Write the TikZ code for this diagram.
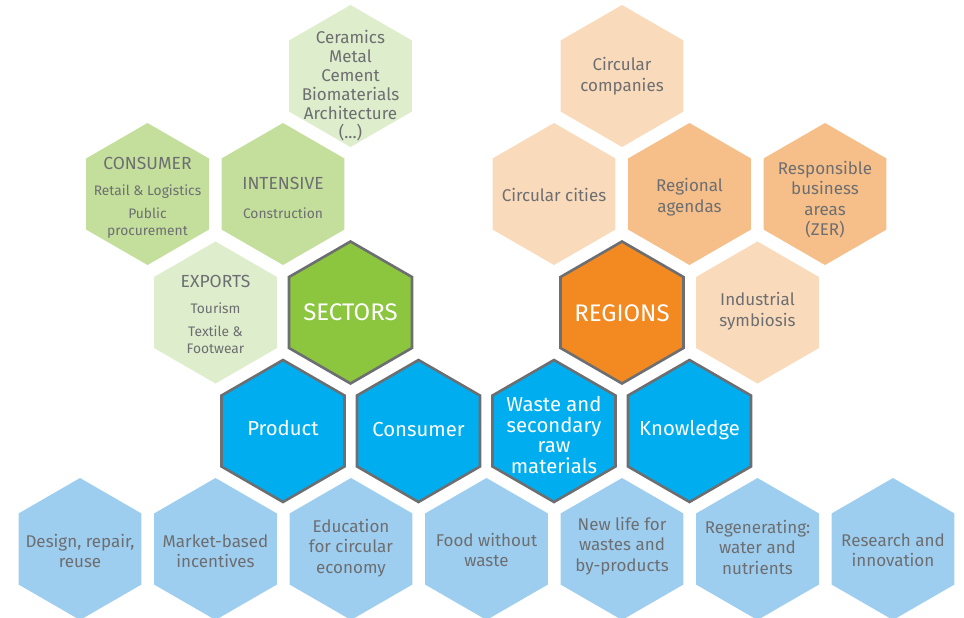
\documentclass[tikz,border=0pt]{standalone}
\usepackage{fontspec}
\setmainfont{Fira Sans}
\usetikzlibrary{shapes.geometric}

\definecolor{txtgray}{RGB}{109,110,113}
\definecolor{hexblue}{RGB}{0,174,239}
\definecolor{hexlblue}{RGB}{158,206,239}
\definecolor{hexgreen}{RGB}{140,198,63}
\definecolor{hexmgreen}{RGB}{196,223,156}
\definecolor{hexlgreen}{RGB}{222,237,204}
\definecolor{hexorange}{RGB}{242,138,33}
\definecolor{hexmorange}{RGB}{246,191,137}
\definecolor{hexlorange}{RGB}{249,219,187}

\tikzset{
  hexa/.style={regular polygon, regular polygon sides=6, shape border rotate=30,
    minimum size=142pt, inner sep=0pt, outer sep=0pt},
  core/.style={hexa, draw=txtgray, line width=2.6pt},
  txt/.style={align=center, text=txtgray, inner sep=0pt, font=\fontsize{17}{20.5}\selectfont},
  small/.style={txt, font=\fontsize{13.8}{19}\selectfont},
  head/.style={txt, font=\fontsize{17.5}{20}\selectfont},
  big/.style={align=center, text=white, inner sep=0pt, font=\fontsize{20.3}{20.5}\selectfont},
  huge/.style={big, font=\fontsize{24}{26}\selectfont}
}

\begin{document}
\begin{tikzpicture}[x=1pt, y=-1pt]
    \useasboundingbox (0,0) rectangle (964,618);

    % sectors side
    \node[hexa, fill=hexlgreen] (ceramics) at (350.5,76) {};
    \node[hexa, fill=hexmgreen] (consumer) at (147.5,194) {};
    \node[hexa, fill=hexmgreen] (intensive) at (283,194) {};
    \node[hexa, fill=hexlgreen] (exports) at (215.5,312.5) {};
    \node[core, fill=hexgreen] (sectors) at (350.5,312.5) {};

    \node[txt] (ceramics-t) at (350.5,86) {Ceramics\\[-1.5pt]Metal\\[-1.5pt]Cement\\[-1.5pt]Biomaterials\\[-1.5pt]Architecture\\[-1.5pt](...)};
    \node[head] (consumer-h) at (147.5,163) {CONSUMER};
    \node[small] (consumer-t) at (147.5,212) {Retail \& Logistics\\[4pt]Public\\[-2pt]procurement};
    \node[head] (intensive-h) at (283,183) {INTENSIVE};
    \node[small] (intensive-t) at (283,213) {Construction};
    \node[head] (exports-h) at (215.5,281) {EXPORTS};
    \node[small] (exports-t) at (215.5,328) {Tourism\\[4pt]Textile \&\\[-2pt]Footwear};
    \node[huge] (sectors-t) at (350.5,312) {SECTORS};

    % regions side
    \node[hexa, fill=hexlorange] (companies) at (622,76) {};
    \node[hexa, fill=hexlorange] (cities) at (554,194) {};
    \node[hexa, fill=hexmorange] (agendas) at (689.5,194) {};
    \node[hexa, fill=hexmorange] (zer) at (825,194) {};
    \node[core, fill=hexorange] (regions) at (622,312.5) {};
    \node[hexa, fill=hexlorange] (symbiosis) at (757.5,312.5) {};

    \node[txt] (companies-t) at (622,76) {Circular\\companies};
    \node[txt] (cities-t) at (554,195) {Circular cities};
    \node[txt] (agendas-t) at (689.5,197) {Regional\\agendas};
    \node[txt] (zer-t) at (825,199.5) {Responsible\\business\\areas\\(ZER)};
    \node[huge] (regions-t) at (622,313) {REGIONS};
    \node[txt] (symbiosis-t) at (757.5,311) {Industrial\\symbiosis};

    % main axes
    \node[core, fill=hexblue] (product) at (283,431) {};
    \node[core, fill=hexblue] (consumerb) at (418.5,431) {};
    \node[core, fill=hexblue] (waste) at (554,431) {};
    \node[core, fill=hexblue] (knowledge) at (689.5,431) {};

    \node[big] (product-t) at (283,428) {Product};
    \node[big] (consumerb-t) at (418.5,430) {Consumer};
    \node[big] (waste-t) at (554,435) {Waste and\\secondary\\raw\\materials};
    \node[big] (knowledge-t) at (689.5,430) {Knowledge};

    % actions
    \node[hexa, fill=hexlblue] (design) at (80,549) {};
    \node[hexa, fill=hexlblue] (market) at (215.5,549) {};
    \node[hexa, fill=hexlblue] (education) at (351,549) {};
    \node[hexa, fill=hexlblue] (food) at (486.5,549) {};
    \node[hexa, fill=hexlblue] (newlife) at (622,549) {};
    \node[hexa, fill=hexlblue] (water) at (757.5,549) {};
    \node[hexa, fill=hexlblue] (research) at (893,549) {};

    \node[txt] (design-t) at (80,551) {Design, repair,\\reuse};
    \node[txt] (market-t) at (215.5,551) {Market-based\\incentives};
    \node[txt] (education-t) at (351,548) {Education\\for circular\\economy};
    \node[txt] (food-t) at (486.5,550) {Food without\\waste};
    \node[txt] (newlife-t) at (622,546) {New life for\\wastes and\\by-products};
    \node[txt] (water-t) at (757.5,547) {Regenerating:\\water and\\nutrients};
    \node[txt] (research-t) at (893,550) {Research and\\innovation};
\end{tikzpicture}
\end{document}
